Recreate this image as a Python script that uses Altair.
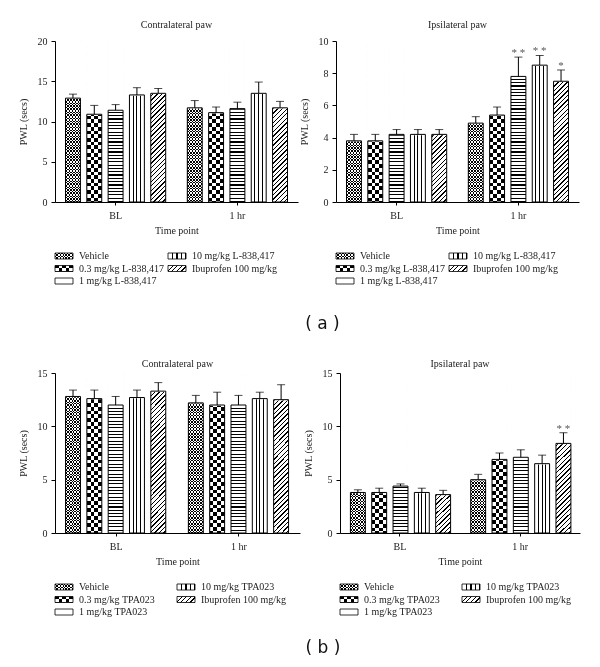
import math
import altair as alt
import pandas as pd

# ---------------- data ----------------
TIMES = ["BL", "1 hr"]
GROUPS_A = ["Vehicle", "0.3 mg/kg L-838,417", "1 mg/kg L-838,417",
            "10 mg/kg L-838,417", "Ibuprofen 100 mg/kg"]
GROUPS_B = ["Vehicle", "0.3 mg/kg TPA023", "1 mg/kg TPA023",
            "10 mg/kg TPA023", "Ibuprofen 100 mg/kg"]
PATTERNS = ["fine", "checker", "hlines", "vlines", "diag"]

# (a) contralateral paw
A_CON_BL = [12.9, 10.9, 11.4, 13.3, 13.5]
A_CON_BL_ERR = [0.5, 1.1, 0.7, 0.9, 0.6]
A_CON_1H = [11.7, 11.1, 11.6, 13.5, 11.7]
A_CON_1H_ERR = [0.9, 0.7, 0.8, 1.4, 0.8]
A_CON_STARS = ["", "", "", "", ""]
# (a) ipsilateral paw
A_IPS_BL = [3.8, 3.8, 4.2, 4.2, 4.2]
A_IPS_BL_ERR = [0.4, 0.4, 0.3, 0.3, 0.3]
A_IPS_1H = [4.9, 5.4, 7.8, 8.5, 7.5]
A_IPS_1H_ERR = [0.4, 0.5, 1.2, 0.6, 0.7]
A_IPS_STARS = ["", "", "* *", "* *", "*"]
# (b) contralateral paw
B_CON_BL = [12.8, 12.6, 12.0, 12.7, 13.3]
B_CON_BL_ERR = [0.6, 0.8, 0.8, 0.7, 0.8]
B_CON_1H = [12.2, 12.0, 12.0, 12.6, 12.5]
B_CON_1H_ERR = [0.7, 1.2, 0.9, 0.6, 1.4]
B_CON_STARS = ["", "", "", "", ""]
# (b) ipsilateral paw
B_IPS_BL = [3.8, 3.8, 4.4, 3.8, 3.6]
B_IPS_BL_ERR = [0.25, 0.4, 0.2, 0.4, 0.4]
B_IPS_1H = [5.0, 6.9, 7.1, 6.5, 8.4]
B_IPS_1H_ERR = [0.5, 0.6, 0.7, 0.8, 1.0]
B_IPS_STARS = ["", "", "", "", "* *"]

# ---------------- style ----------------
SERIF = "Liberation Serif"
TXT = "#222222"
BLACK = "#000000"
WHITE = "#ffffff"
PI, PO = 0.125, 0.06      # time band padding
SPI, SPO = 0.3, 0.15      # group offset padding
SQ2 = math.sqrt(2)


def bar_width(W):
    step = W / (2 - PI + 2 * PO)
    band = step * (1 - PI)
    sub = band / (5 - SPI + 2 * SPO)
    return sub * (1 - SPI)


def stops_for(length, period, line, phase):
    pts = [(0.0, WHITE)]
    k = 0
    while True:
        a = phase + k * period
        if a >= length:
            break
        b = min(a + line, length)
        a0 = max(a, 0.0)
        if b > 0:
            pts += [(a0 / length, WHITE), (a0 / length, BLACK),
                    (b / length, BLACK), (b / length, WHITE)]
        k += 1
    pts.append((1.0, WHITE))
    return [alt.GradientStop(color=c, offset=round(o, 5)) for o, c in pts]


def lin(stops, x2, y2):
    return alt.LinearGradient(gradient="linear", stops=stops,
                              x1=0, y1=0, x2=x2, y2=y2)


def hlines(h, period, line, phase=0.0):
    return lin(stops_for(h, period, line, phase), 0, 1)


def vlines(w, period, line, phase=0.0):
    return lin(stops_for(w, period, line, phase), 1, 0)


def diag(w, h, period, line):
    L = w + h
    c = L / (w * w + h * h)
    return lin(stops_for(L, period * SQ2, line * SQ2, 0.0), c * w, c * h)


def pattern_fills(pat, w, h, legend):
    if pat == "fine":
        sq = 1.5
        return [(vlines(w, 2 * sq, sq), None), (hlines(h, 2 * sq, sq), "difference")]
    if pat == "checker":
        sx = 3.6 if legend else w / 4
        sy = 3.0 if legend else w / 4
        return [(vlines(w, 2 * sx, sx), None), (hlines(h, 2 * sy, sy), "difference")]
    if pat == "hlines":
        if legend:
            return [(hlines(h, 3.0, 1.0, 2.5), None)]
        return [(hlines(h, 3.3, 1.1, 1.5), None)]
    if pat == "vlines":
        if legend:
            return [(vlines(w, 4.5, 1.0, 4.0), None)]
        return [(vlines(w, w / 4, 1.0, w / 4 - 0.5), None)]
    return [(diag(w, h, 3.2, 1.0), None)]


def panel(title, groups, m_bl, e_bl, m_1h, e_1h, stars, ymax, ticks, W, H, toff):
    rows = []
    for t, means, errs, st in [("BL", m_bl, e_bl, [""] * 5), ("1 hr", m_1h, e_1h, stars)]:
        for g, pat, m, e, s in zip(groups, PATTERNS, means, errs, st):
            rows.append(dict(time=t, group=g, pattern=pat, mean=m,
                             upper=m + e, top=ymax, star=s))
    df = pd.DataFrame(rows)
    bw = bar_width(W)
    yaxis = alt.Axis(title="PWL (secs)", values=ticks, grid=False, tickSize=4,
                     labelPadding=4, titlePadding=9, format="d")
    xaxis = alt.Axis(title="Time point", labelAngle=0, tickSize=3,
                     labelPadding=5, titlePadding=5, grid=False)
    x = alt.X("time:N", sort=TIMES, axis=xaxis,
              scale=alt.Scale(paddingInner=PI, paddingOuter=PO))
    xo = alt.XOffset("pattern:N", sort=PATTERNS,
                     scale=alt.Scale(paddingInner=SPI, paddingOuter=SPO))
    ysc = alt.Scale(domain=[0, ymax], nice=False)

    def Y(f):
        return alt.Y(f, type="quantitative", scale=ysc, axis=yaxis, stack=None)

    base = alt.Chart(df).encode(x=x, xOffset=xo)
    layers = []
    for pat in PATTERNS:
        for fill, blend in pattern_fills(pat, bw, H, False):
            kw = dict(fill=fill, strokeWidth=0)
            if blend:
                kw["blend"] = blend
            layers.append(base.transform_filter(alt.datum.pattern == pat)
                          .mark_bar(**kw).encode(y=Y("top")))
    layers.append(base.mark_bar(fill=WHITE, stroke=WHITE, strokeWidth=1.5)
                  .encode(y=Y("mean"), y2=alt.Y2("top")))
    layers.append(base.mark_bar(fillOpacity=0, stroke=BLACK, strokeWidth=1)
                  .encode(y=Y("mean")))
    layers.append(base.mark_rule(color=BLACK, strokeWidth=1)
                  .encode(y=Y("mean"), y2=alt.Y2("upper")))
    layers.append(base.mark_tick(color=BLACK, thickness=1, size=8)
                  .encode(y=Y("upper")))
    layers.append(base.transform_filter(alt.datum.star != "")
                  .mark_text(baseline="bottom", dy=1, font=SERIF, fontSize=11, color="#555")
                  .encode(y=Y("upper"), text="star:N"))
    return alt.layer(*layers).properties(
        width=W, height=H,
        title=alt.TitleParams(title, offset=toff, font=SERIF, fontSize=10,
                              fontWeight="normal", color=TXT, anchor="middle"))


def legend(labels, colgap, W):
    df = pd.DataFrame({"label": labels, "pattern": PATTERNS,
                       "col": [0, 0, 0, 1, 1], "row": [0, 1, 2, 0, 1]})
    base = alt.Chart(df).encode(
        x=alt.X("col:Q", scale=alt.Scale(domain=[0, 1], range=[0, colgap]), axis=None),
        y=alt.Y("row:Q", scale=alt.Scale(domain=[0, 2], range=[4, 29]), axis=None),
    )
    rect = dict(x2Offset=18, yOffset=-3, y2Offset=3)
    layers = []
    for pat in PATTERNS:
        for fill, blend in pattern_fills(pat, 18, 6, True):
            kw = dict(fill=fill, strokeWidth=0, **rect)
            if blend:
                kw["blend"] = blend
            layers.append(base.transform_filter(alt.datum.pattern == pat)
                          .mark_rect(**kw).encode(x2="col:Q", y2="row:Q"))
    layers.append(base.mark_rect(fillOpacity=0, stroke=BLACK, strokeWidth=0.8, **rect)
                  .encode(x2="col:Q", y2="row:Q"))
    layers.append(base.mark_text(align="left", baseline="middle", dx=24, font=SERIF,
                                 fontSize=10, color=TXT).encode(text="label:N"))
    return alt.layer(*layers).properties(width=W, height=33)


def column(p, leg):
    return alt.vconcat(p, leg, spacing=16)


WL, WR, H = 243, 243, 161
tl = panel("Contralateral paw", GROUPS_A, A_CON_BL, A_CON_BL_ERR, A_CON_1H, A_CON_1H_ERR,
           A_CON_STARS, 20, [0, 5, 10, 15, 20], WL, H, 6)
tr = panel("Ipsilateral paw", GROUPS_A, A_IPS_BL, A_IPS_BL_ERR, A_IPS_1H, A_IPS_1H_ERR,
           A_IPS_STARS, 10, [0, 2, 4, 6, 8, 10], WR, H, 6)
bl = panel("Contralateral paw", GROUPS_B, B_CON_BL, B_CON_BL_ERR, B_CON_1H, B_CON_1H_ERR,
           B_CON_STARS, 15, [0, 5, 10, 15], 245, 160, -1)
br = panel("Ipsilateral paw", GROUPS_B, B_IPS_BL, B_IPS_BL_ERR, B_IPS_1H, B_IPS_1H_ERR,
           B_IPS_STARS, 15, [0, 5, 10, 15], 240, 160, -1)

row_a = alt.hconcat(column(tl, legend(GROUPS_A, 113, WL)),
                    column(tr, legend(GROUPS_A, 113, WR)), spacing=1).properties(
    title=alt.TitleParams("( a )", orient="bottom", anchor="middle", font="DejaVu Sans",
                          fontSize=17, fontWeight="normal", color="#111", offset=30, dx=24))
row_b = alt.hconcat(column(bl, legend(GROUPS_B, 122, 245)),
                    column(br, legend(GROUPS_B, 122, 240)), spacing=3).properties(
    title=alt.TitleParams("( b )", orient="bottom", anchor="middle", font="DejaVu Sans",
                          fontSize=17, fontWeight="normal", color="#111", offset=23, dx=24))

chart = alt.vconcat(row_a, row_b, spacing=27).properties(
    padding={"left": 10, "top": 12, "right": 4, "bottom": 0}
).configure_view(stroke=None).configure_axis(
    labelFont=SERIF, titleFont=SERIF, labelFontSize=10, titleFontSize=10,
    titleFontWeight="normal", labelColor=TXT, titleColor=TXT,
    domainColor=BLACK, tickColor=BLACK, domainWidth=1, tickWidth=1)

chart.save("out.html", embed_options={"renderer": "svg", "actions": False})
